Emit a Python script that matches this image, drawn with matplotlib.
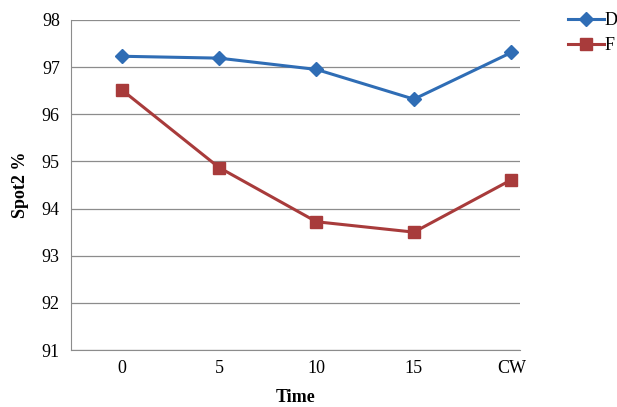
import numpy as np
import matplotlib
matplotlib.use("Agg")
import matplotlib.pyplot as plt

categories = ["0", "5", "10", "15", "CW"]
d_values = [97.23, 97.19, 96.95, 96.32, 97.31]
f_values = [96.52, 94.87, 93.72, 93.50, 94.61]

plt.rcParams['font.family'] = ['Liberation Serif', 'DejaVu Serif']

fig = plt.figure(figsize=(6.17, 4.07), dpi=100)
ax = fig.add_axes([0.115, 0.14, 0.728, 0.811])

x = np.arange(len(categories))
ax.plot(x, d_values, color='#2F6DB5', lw=2.2, marker='D', ms=7, label='D', zorder=3)
ax.plot(x, f_values, color='#A83B3B', lw=2.2, marker='s', ms=8, label='F', zorder=3)

ax.set_ylim(91, 98)
ax.set_yticks(range(91, 99))
ax.set_xlim(-0.52, 4.09)
ax.set_xticks(x)
ax.set_xticklabels(categories)
ax.yaxis.grid(True, color='#8c8c8c', lw=0.9)
ax.set_axisbelow(True)
for s in ['top', 'right']:
    ax.spines[s].set_visible(False)
ax.spines['left'].set_color('#8c8c8c')
ax.spines['bottom'].set_color('#8c8c8c')
ax.tick_params(length=0, labelsize=13, pad=8)
ax.tick_params(axis='x', pad=7)

ax.set_xlabel('Time', fontsize=13, fontweight='bold', labelpad=9)
ax.set_ylabel('Spot2 %', fontsize=13, fontweight='bold', labelpad=9)

ax.legend(loc='upper left', bbox_to_anchor=(1.09, 1.045), frameon=False,
          fontsize=13, handlelength=2.0, handletextpad=0.05, borderaxespad=0,
          labelspacing=0.45)

fig.savefig('out.png', dpi=100)
